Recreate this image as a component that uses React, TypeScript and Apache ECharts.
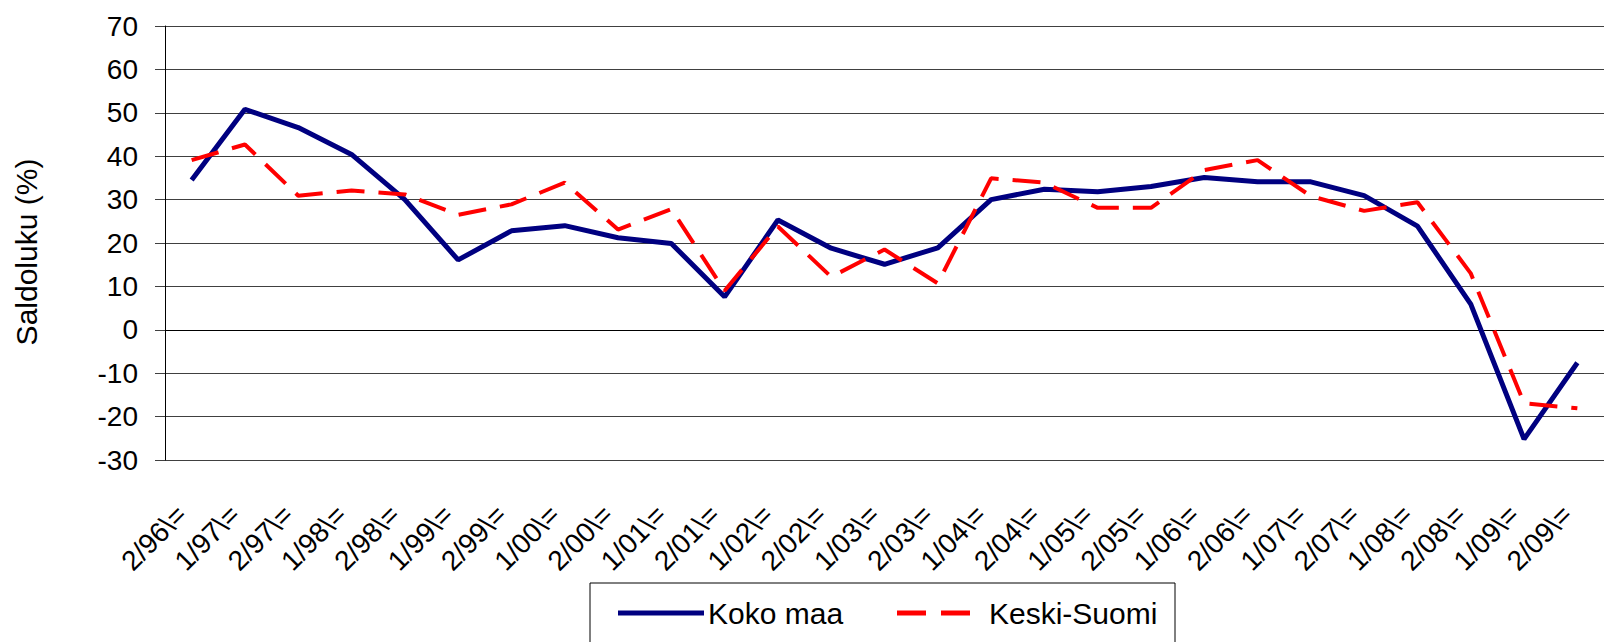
import React, { useEffect, useRef } from "react";
import * as echarts from "echarts";

const categories = [
  "2/96\\=", "1/97\\=", "2/97\\=", "1/98\\=", "2/98\\=", "1/99\\=", "2/99\\=",
  "1/00\\=", "2/00\\=", "1/01\\=", "2/01\\=", "1/02\\=", "2/02\\=", "1/03\\=",
  "2/03\\=", "1/04\\=", "2/04\\=", "1/05\\=", "2/05\\=", "1/06\\=", "2/06\\=",
  "1/07\\=", "2/07\\=", "1/08\\=", "2/08\\=", "1/09\\=", "2/09\\=",
];

const kokoMaa = [
  34.5, 50.8, 46.6, 40.4, 30.0, 16.1, 22.8, 24.0, 21.2, 19.9, 7.6, 25.3, 18.8, 15.1,
  18.9, 30.0, 32.4, 31.8, 33.0, 35.1, 34.1, 34.1, 30.9, 23.9, 5.9, -25.2, -7.6,
];

const keskiSuomi = [
  39.1, 42.7, 30.9, 32.1, 31.2, 26.5, 28.9, 33.9, 23.1, 27.8, 9.0, 23.8, 12.2, 18.5,
  10.7, 34.9, 33.9, 28.1, 28.1, 36.8, 39.1, 30.8, 27.4, 29.4, 13.0, -16.9, -18.1,
];

const seriesNames = ["Koko maa", "Keski-Suomi"];
const yTicks = { min: -30, max: 70, interval: 10 };

const FONT = "Liberation Sans, Arial, sans-serif";
const NAVY = "#000080";
const RED = "#ff0000";

export default function App() {
  const ref = useRef<HTMLDivElement>(null);

  useEffect(() => {
    if (!ref.current) return;
    const chart = echarts.init(ref.current, null, { renderer: "svg" });
    chart.setOption({
      animation: false,
      backgroundColor: "#ffffff",
      textStyle: { fontFamily: FONT },
      grid: { left: 165, right: -20, top: 26, bottom: 182, containLabel: false },
      xAxis: {
        type: "category",
        data: categories,
        boundaryGap: true,
        axisLine: { show: true, lineStyle: { color: "#000000", width: 1 } },
        axisTick: { show: false },
        axisLabel: {
          interval: 0,
          rotate: 45,
          margin: 40,
          formatter: (v: string) => "{a|" + v + "}",
          rich: {
            a: {
              fontSize: 28,
              color: "#000000",
              fontFamily: FONT,
              padding: [0, 14, 0, 0],
            },
          },
        },
        splitLine: { show: false },
      },
      yAxis: {
        type: "value",
        min: yTicks.min,
        max: yTicks.max,
        interval: yTicks.interval,
        name: "Saldoluku (%)",
        nameLocation: "middle",
        nameRotate: 90,
        nameGap: 124,
        nameTextStyle: {
          fontSize: 30,
          color: "#000000",
          fontFamily: FONT,
          padding: [0, 18, 0, 0],
        },
        axisLine: { show: true, lineStyle: { color: "#000000", width: 1 } },
        axisTick: { show: true, inside: false, length: 10, lineStyle: { color: "#404040" } },
        axisLabel: { fontSize: 28, color: "#000000", fontFamily: FONT, margin: 27 },
        splitLine: { show: true, lineStyle: { color: "#404040", width: 1 } },
      },
      graphic: [
        {
          type: "rect",
          shape: { x: 590, y: 583, width: 585, height: 100 },
          style: { fill: "#ffffff", stroke: "#000000", lineWidth: 1 },
          z: 10,
        },
        {
          type: "line",
          shape: { x1: 618, y1: 613, x2: 704, y2: 613 },
          style: { stroke: NAVY, lineWidth: 5 },
          z: 11,
        },
        {
          type: "text",
          x: 708,
          y: 613,
          style: {
            text: seriesNames[0],
            fontSize: 30,
            fontFamily: FONT,
            fill: "#000000",
            verticalAlign: "middle",
            align: "left",
          },
          z: 11,
        },
        {
          type: "line",
          shape: { x1: 897, y1: 613, x2: 970, y2: 613 },
          style: { stroke: RED, lineWidth: 5, lineDash: [29, 15] },
          z: 11,
        },
        {
          type: "text",
          x: 989,
          y: 613,
          style: {
            text: seriesNames[1],
            fontSize: 30,
            fontFamily: FONT,
            fill: "#000000",
            verticalAlign: "middle",
            align: "left",
          },
          z: 11,
        },
      ],
      series: [
        {
          name: seriesNames[0],
          type: "line",
          data: kokoMaa,
          symbol: "none",
          lineStyle: { color: NAVY, width: 5 },
          itemStyle: { color: NAVY },
          z: 2,
        },
        {
          name: seriesNames[1],
          type: "line",
          data: keskiSuomi,
          symbol: "none",
          lineStyle: { color: RED, width: 4, type: [28, 14] },
          itemStyle: { color: RED },
          z: 3,
        },
      ],
    });
    return () => chart.dispose();
  }, []);

  return (
    <div
      ref={ref}
      style={{ position: "fixed", left: 0, top: 0, width: 1604, height: 642, background: "#fff" }}
    />
  );
}
